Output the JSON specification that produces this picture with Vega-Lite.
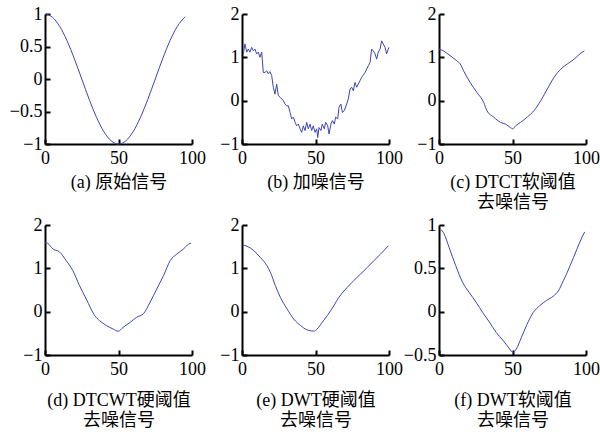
{
  "$schema": "https://vega.github.io/schema/vega-lite/v6.json",
  "background": "white",
  "padding": {"left": 9, "top": 5, "right": 5, "bottom": 5},
  "config": {
    "view": {"stroke": null},
    "axis": {
      "grid": false,
      "domainColor": "#000",
      "domainWidth": 2,
      "tickColor": "#000",
      "tickWidth": 2,
      "tickSize": -5,
      "labelColor": "#000",
      "labelFont": "Liberation Serif",
      "labelFontSize": 18,
      "labelFlush": false,
      "labelOverlap": false,
      "titleFont": "Liberation Serif, Noto Sans CJK SC",
      "titleFontSize": 18,
      "titleFontWeight": "normal",
      "titleColor": "#000",
      "titleLineHeight": 20
    },
    "axisY": {"labelPadding": 8},
    "axisX": {"labelPadding": 10, "titlePadding": 6}
  },
  "datasets": {
    "a": [
      {"x": 1, "y": 0.998}, {"x": 5, "y": 0.951}, {"x": 10, "y": 0.809}, {"x": 15, "y": 0.588},
      {"x": 20, "y": 0.309}, {"x": 25, "y": 0.0}, {"x": 30, "y": -0.309}, {"x": 35, "y": -0.588},
      {"x": 40, "y": -0.809}, {"x": 45, "y": -0.951}, {"x": 50, "y": -1.0}, {"x": 55, "y": -0.951},
      {"x": 60, "y": -0.809}, {"x": 65, "y": -0.588}, {"x": 70, "y": -0.309}, {"x": 75, "y": 0.0},
      {"x": 80, "y": 0.309}, {"x": 85, "y": 0.588}, {"x": 90, "y": 0.809}, {"x": 95.3, "y": 0.957}
    ],
    "b": [
      {"x": 0.9, "y": 1.08}, {"x": 2, "y": 1.31}, {"x": 3.2, "y": 1.12}, {"x": 4.3, "y": 1.19},
      {"x": 5.4, "y": 1.12}, {"x": 6.6, "y": 1.23}, {"x": 7.7, "y": 1.15}, {"x": 8.8, "y": 1.19},
      {"x": 10, "y": 1.08}, {"x": 11.1, "y": 1.12}, {"x": 12.2, "y": 1.0}, {"x": 13.4, "y": 1.12},
      {"x": 14.5, "y": 0.65}, {"x": 15.6, "y": 0.65}, {"x": 16.8, "y": 0.69}, {"x": 17.9, "y": 0.62},
      {"x": 19, "y": 0.67}, {"x": 20.2, "y": 0.58}, {"x": 21.3, "y": 0.31}, {"x": 22.4, "y": 0.15},
      {"x": 23.6, "y": 0.38}, {"x": 24.7, "y": 0.12}, {"x": 25.9, "y": 0.08}, {"x": 27, "y": 0.04},
      {"x": 28.1, "y": 0.0}, {"x": 29.3, "y": -0.08}, {"x": 30.4, "y": -0.12}, {"x": 31.5, "y": -0.12},
      {"x": 32.7, "y": -0.27}, {"x": 33.8, "y": -0.42}, {"x": 34.9, "y": -0.38}, {"x": 36.1, "y": -0.5},
      {"x": 37.2, "y": -0.58}, {"x": 38.3, "y": -0.54}, {"x": 39.5, "y": -0.65}, {"x": 40.6, "y": -0.73},
      {"x": 41.7, "y": -0.58}, {"x": 42.9, "y": -0.69}, {"x": 44, "y": -0.5}, {"x": 45.1, "y": -0.65},
      {"x": 46.3, "y": -0.54}, {"x": 47.4, "y": -0.69}, {"x": 48.5, "y": -0.58}, {"x": 49.7, "y": -0.73},
      {"x": 50.8, "y": -0.65}, {"x": 51.5, "y": -0.85}, {"x": 52.4, "y": -0.62}, {"x": 53.7, "y": -0.69},
      {"x": 54.6, "y": -0.54}, {"x": 56, "y": -0.65}, {"x": 56.9, "y": -0.5}, {"x": 58.3, "y": -0.58},
      {"x": 59.2, "y": -0.77}, {"x": 60.5, "y": -0.54}, {"x": 61.5, "y": -0.46}, {"x": 62.8, "y": -0.54},
      {"x": 63.7, "y": -0.38}, {"x": 65.1, "y": -0.42}, {"x": 66, "y": -0.15}, {"x": 67.3, "y": -0.08},
      {"x": 68.3, "y": -0.27}, {"x": 69.6, "y": -0.23}, {"x": 71.2, "y": -0.08}, {"x": 72.3, "y": 0.04},
      {"x": 73.5, "y": 0.27}, {"x": 74.6, "y": 0.31}, {"x": 75.7, "y": 0.23}, {"x": 76.9, "y": 0.42},
      {"x": 78, "y": 0.31}, {"x": 79.1, "y": 0.38}, {"x": 80.3, "y": 0.46}, {"x": 81.4, "y": 0.54},
      {"x": 83.7, "y": 0.65}, {"x": 86, "y": 0.81}, {"x": 87.1, "y": 0.88}, {"x": 88.2, "y": 1.19},
      {"x": 89.3, "y": 1.15}, {"x": 90.5, "y": 1.08}, {"x": 91.6, "y": 0.96}, {"x": 92.7, "y": 1.12},
      {"x": 93.9, "y": 1.19}, {"x": 95, "y": 1.38}, {"x": 96.1, "y": 1.31}, {"x": 97.3, "y": 1.23},
      {"x": 98.4, "y": 1.08}, {"x": 99.5, "y": 1.19}, {"x": 100, "y": 1.23}
    ],
    "c": [
      {"x": 0, "y": 1.19}, {"x": 3, "y": 1.15}, {"x": 7.5, "y": 1.04}, {"x": 12.1, "y": 0.92},
      {"x": 14.4, "y": 0.85}, {"x": 16.7, "y": 0.69}, {"x": 21.2, "y": 0.42}, {"x": 25.8, "y": 0.19},
      {"x": 30.4, "y": -0.04}, {"x": 32.6, "y": -0.23}, {"x": 37.2, "y": -0.38}, {"x": 41.8, "y": -0.5},
      {"x": 45.2, "y": -0.54}, {"x": 48.6, "y": -0.62}, {"x": 50.2, "y": -0.65}, {"x": 52.1, "y": -0.58},
      {"x": 55.5, "y": -0.5}, {"x": 60, "y": -0.38}, {"x": 64.6, "y": -0.23}, {"x": 69.2, "y": 0.0},
      {"x": 73.7, "y": 0.27}, {"x": 78.3, "y": 0.54}, {"x": 82.9, "y": 0.73}, {"x": 87.4, "y": 0.85},
      {"x": 92, "y": 0.96}, {"x": 96.6, "y": 1.1}, {"x": 98.9, "y": 1.15}
    ],
    "d": [
      {"x": 0, "y": 1.6}, {"x": 1.8, "y": 1.58}, {"x": 5.3, "y": 1.45}, {"x": 9.8, "y": 1.38},
      {"x": 14.4, "y": 1.18}, {"x": 18.9, "y": 0.95}, {"x": 23.5, "y": 0.6}, {"x": 28.1, "y": 0.29},
      {"x": 33.8, "y": -0.09}, {"x": 37.2, "y": -0.21}, {"x": 41.8, "y": -0.32}, {"x": 46.3, "y": -0.4},
      {"x": 49.8, "y": -0.45}, {"x": 53.2, "y": -0.36}, {"x": 57.8, "y": -0.25}, {"x": 62.3, "y": -0.13},
      {"x": 66.9, "y": -0.05}, {"x": 71.5, "y": 0.22}, {"x": 76, "y": 0.52}, {"x": 80.6, "y": 0.83},
      {"x": 85.2, "y": 1.18}, {"x": 89.7, "y": 1.33}, {"x": 94.3, "y": 1.45}, {"x": 97.7, "y": 1.56},
      {"x": 99.3, "y": 1.58}
    ],
    "e": [
      {"x": 0.7, "y": 1.54}, {"x": 3.4, "y": 1.51}, {"x": 8, "y": 1.41}, {"x": 12.5, "y": 1.25},
      {"x": 17, "y": 1.06}, {"x": 19.3, "y": 0.91}, {"x": 22.7, "y": 0.6}, {"x": 26.1, "y": 0.33},
      {"x": 30.7, "y": 0.06}, {"x": 35.2, "y": -0.17}, {"x": 39.8, "y": -0.32}, {"x": 44.3, "y": -0.42},
      {"x": 48.9, "y": -0.45}, {"x": 51.1, "y": -0.4}, {"x": 54.5, "y": -0.25}, {"x": 58, "y": -0.09},
      {"x": 62.5, "y": 0.14}, {"x": 65.9, "y": 0.33}, {"x": 71.6, "y": 0.56}, {"x": 76.1, "y": 0.72},
      {"x": 80.7, "y": 0.87}, {"x": 85.2, "y": 1.02}, {"x": 89.8, "y": 1.18}, {"x": 94.3, "y": 1.33},
      {"x": 99.5, "y": 1.52}
    ],
    "f": [
      {"x": 1.1, "y": 0.95}, {"x": 3.4, "y": 0.9}, {"x": 6.9, "y": 0.74}, {"x": 11.4, "y": 0.53},
      {"x": 16, "y": 0.34}, {"x": 20.6, "y": 0.22}, {"x": 25.2, "y": 0.11}, {"x": 29.7, "y": -0.01},
      {"x": 34.3, "y": -0.12}, {"x": 38.9, "y": -0.24}, {"x": 43.5, "y": -0.33}, {"x": 48.1, "y": -0.43},
      {"x": 50.3, "y": -0.47}, {"x": 52.6, "y": -0.43}, {"x": 56, "y": -0.3}, {"x": 59.5, "y": -0.16},
      {"x": 64.1, "y": -0.01}, {"x": 68.6, "y": 0.07}, {"x": 73.2, "y": 0.13}, {"x": 77.8, "y": 0.18},
      {"x": 81.2, "y": 0.24}, {"x": 84.7, "y": 0.36}, {"x": 89.2, "y": 0.53}, {"x": 93.8, "y": 0.72},
      {"x": 97.3, "y": 0.86}, {"x": 99.1, "y": 0.92}
    ]
  },
  "columns": 3,
  "spacing": {"row": 81, "column": 50},
  "bounds": "flush",
  "concat": [
    {
      "width": 147, "height": 130,
      "data": {"name": "a"},
      "mark": {"type": "line", "color": "#3c46b4", "strokeWidth": 1, "interpolate": "monotone"},
      "encoding": {
        "x": {"field": "x", "type": "quantitative", "scale": {"domain": [0, 100], "nice": false}, "axis": {"values": [0, 50, 100], "format": "d", "title": "(a) 原始信号"}},
        "y": {"field": "y", "type": "quantitative", "scale": {"domain": [-1, 1], "nice": false, "zero": false}, "axis": {"values": [-1, -0.5, 0, 0.5, 1], "format": "~g", "title": null}}
      }
    },
    {
      "width": 147, "height": 130,
      "data": {"name": "b"},
      "mark": {"type": "line", "color": "#3c46b4", "strokeWidth": 1},
      "encoding": {
        "x": {"field": "x", "type": "quantitative", "scale": {"domain": [0, 100], "nice": false}, "axis": {"values": [0, 50, 100], "format": "d", "title": "(b) 加噪信号"}},
        "y": {"field": "y", "type": "quantitative", "scale": {"domain": [-1, 2], "nice": false, "zero": false}, "axis": {"values": [-1, 0, 1, 2], "format": "~g", "title": null}}
      }
    },
    {
      "width": 147, "height": 130,
      "data": {"name": "c"},
      "mark": {"type": "line", "color": "#3c46b4", "strokeWidth": 1, "interpolate": "monotone"},
      "encoding": {
        "x": {"field": "x", "type": "quantitative", "scale": {"domain": [0, 100], "nice": false}, "axis": {"values": [0, 50, 100], "format": "d", "title": ["(c) DTCT软阈值", "去噪信号"]}},
        "y": {"field": "y", "type": "quantitative", "scale": {"domain": [-1, 2], "nice": false, "zero": false}, "axis": {"values": [-1, 0, 1, 2], "format": "~g", "title": null}}
      }
    },
    {
      "width": 147, "height": 130,
      "data": {"name": "d"},
      "mark": {"type": "line", "color": "#3c46b4", "strokeWidth": 1, "interpolate": "monotone"},
      "encoding": {
        "x": {"field": "x", "type": "quantitative", "scale": {"domain": [0, 100], "nice": false}, "axis": {"values": [0, 50, 100], "format": "d", "title": ["(d) DTCWT硬阈值", "去噪信号"], "titlePadding": 13}},
        "y": {"field": "y", "type": "quantitative", "scale": {"domain": [-1, 2], "nice": false, "zero": false}, "axis": {"values": [-1, 0, 1, 2], "format": "~g", "title": null}}
      }
    },
    {
      "width": 147, "height": 130,
      "data": {"name": "e"},
      "mark": {"type": "line", "color": "#3c46b4", "strokeWidth": 1, "interpolate": "monotone"},
      "encoding": {
        "x": {"field": "x", "type": "quantitative", "scale": {"domain": [0, 100], "nice": false}, "axis": {"values": [0, 50, 100], "format": "d", "title": ["(e) DWT硬阈值", "去噪信号"], "titlePadding": 13}},
        "y": {"field": "y", "type": "quantitative", "scale": {"domain": [-1, 2], "nice": false, "zero": false}, "axis": {"values": [-1, 0, 1, 2], "format": "~g", "title": null}}
      }
    },
    {
      "width": 147, "height": 130,
      "data": {"name": "f"},
      "mark": {"type": "line", "color": "#3c46b4", "strokeWidth": 1, "interpolate": "monotone"},
      "encoding": {
        "x": {"field": "x", "type": "quantitative", "scale": {"domain": [0, 100], "nice": false}, "axis": {"values": [0, 50, 100], "format": "d", "title": ["(f) DWT软阈值", "去噪信号"], "titlePadding": 13}},
        "y": {"field": "y", "type": "quantitative", "scale": {"domain": [-0.5, 1], "nice": false, "zero": false}, "axis": {"values": [-0.5, 0, 0.5, 1], "format": "~g", "title": null}}
      }
    }
  ]
}
